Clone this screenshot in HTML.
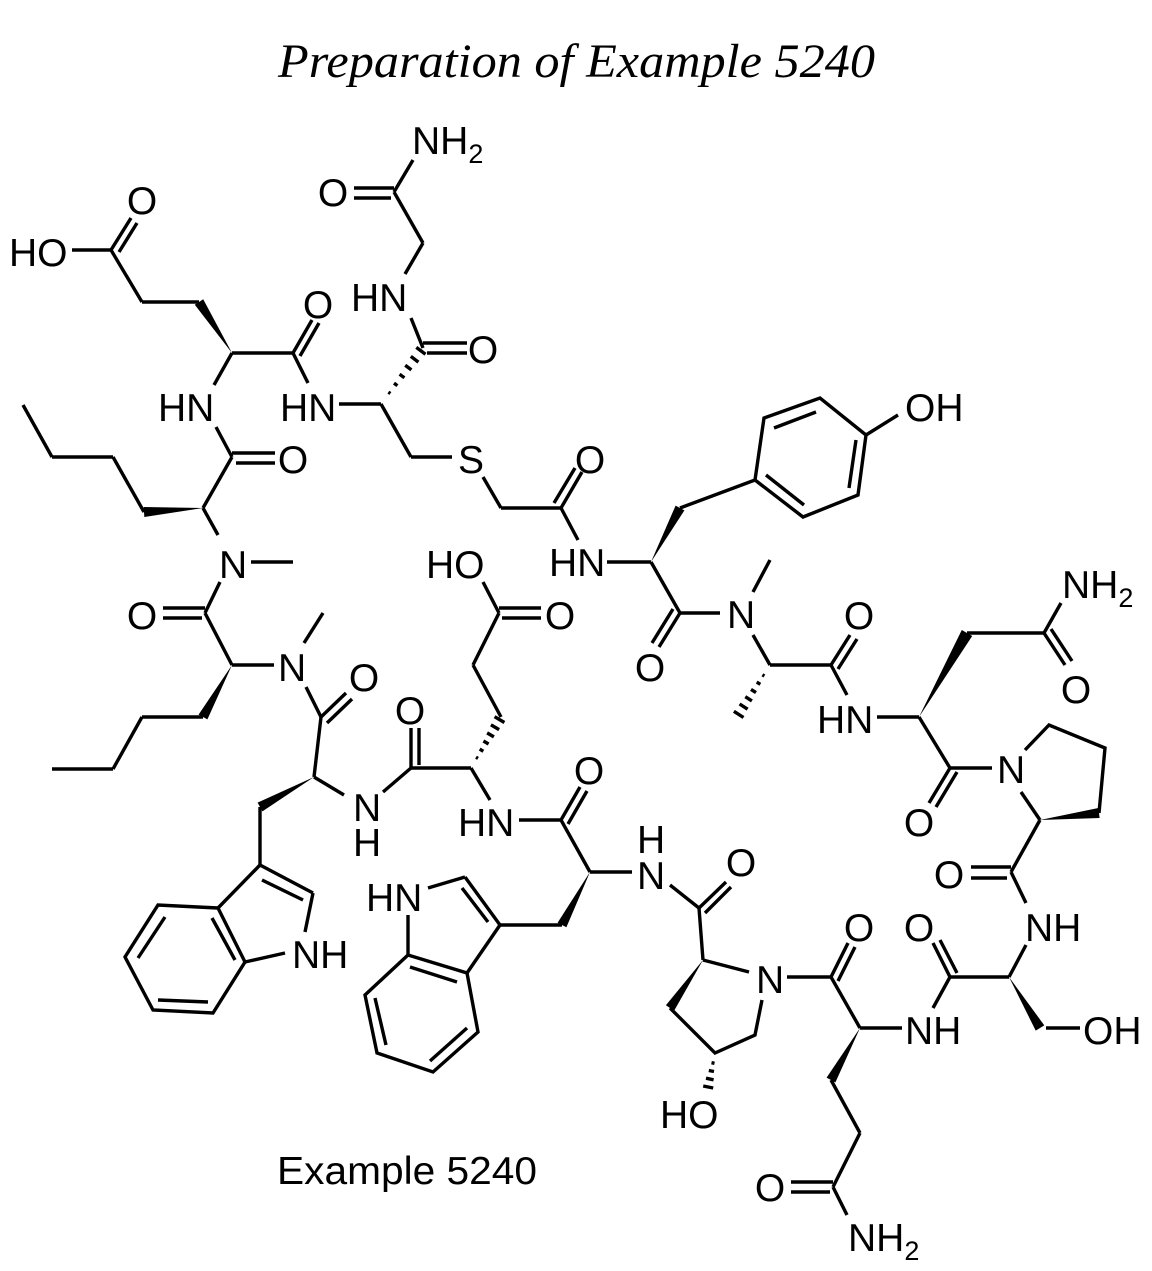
<!DOCTYPE html>
<html><head><meta charset="utf-8"><style>
html,body{margin:0;padding:0;background:#fff;}
svg{display:block}
text{font-family:"Liberation Sans",sans-serif;font-size:39px;fill:#000}
.t{font-family:"Liberation Serif",serif;font-style:italic;font-size:48px}
</style></head><body>
<svg width="1152" height="1271" viewBox="0 0 1152 1271" xmlns="http://www.w3.org/2000/svg">
<rect width="1152" height="1271" fill="#fff"/>
<text class="t" x="278" y="77" textLength="597" lengthAdjust="spacingAndGlyphs">Preparation of Example 5240</text>
<g stroke="#000" stroke-width="3.4" fill="none" stroke-linecap="butt">
<line x1="413" y1="160" x2="394" y2="192"/>
<line x1="354" y1="188" x2="394" y2="188"/><line x1="354" y1="198" x2="391" y2="198"/>
<line x1="394" y1="192" x2="423" y2="243"/><line x1="423" y1="243" x2="405" y2="274"/>
<line x1="411" y1="318" x2="423" y2="348"/>
<line x1="423" y1="343" x2="467" y2="343"/><line x1="427" y1="353" x2="467" y2="353"/>
<line x1="339" y1="404" x2="381" y2="404"/><line x1="381" y1="404" x2="411" y2="457"/>
<line x1="411" y1="457" x2="452" y2="457"/>
<line x1="483" y1="477" x2="501" y2="508"/><line x1="501" y1="508" x2="561" y2="508"/>
<line x1="561" y1="508" x2="582" y2="472"/><line x1="554" y1="503" x2="575" y2="468"/>
<line x1="561" y1="508" x2="578" y2="540"/>
<line x1="388.4" y1="392.1" x2="390.4" y2="393.5"/><line x1="394" y1="383.1" x2="397.4" y2="385.7"/>
<line x1="399.6" y1="374.2" x2="404.4" y2="377.8"/><line x1="405.2" y1="365.3" x2="411.4" y2="369.9"/>
<line x1="410.8" y1="356.3" x2="418.4" y2="362.1"/><line x1="416.3" y1="347.4" x2="425.5" y2="354.2"/>
<line x1="72" y1="250" x2="111" y2="250"/>
<line x1="111" y1="250" x2="131" y2="218"/><line x1="119" y1="252" x2="137" y2="223"/>
<line x1="111" y1="250" x2="142" y2="302"/><line x1="142" y1="302" x2="199" y2="302"/>
<line x1="232" y1="353" x2="293" y2="353"/>
<line x1="293" y1="353" x2="312" y2="320"/><line x1="300" y1="356" x2="319" y2="323"/>
<line x1="293" y1="353" x2="308" y2="383"/>
<line x1="214" y1="385" x2="232" y2="353"/>
<line x1="216" y1="427" x2="232" y2="457"/>
<line x1="232" y1="453" x2="275" y2="453"/><line x1="236" y1="463" x2="275" y2="463"/>
<line x1="232" y1="457" x2="203" y2="508"/>
<line x1="144" y1="512" x2="113" y2="457"/><line x1="113" y1="457" x2="52" y2="457"/><line x1="52" y1="457" x2="23" y2="405"/>
<line x1="203" y1="508" x2="218" y2="535"/>
<line x1="251" y1="562" x2="293" y2="562"/>
<line x1="220" y1="582" x2="205" y2="613"/>
<line x1="163" y1="608" x2="205" y2="608"/><line x1="163" y1="618" x2="202" y2="618"/>
<line x1="205" y1="613" x2="232" y2="665"/><line x1="232" y1="665" x2="274" y2="665"/>
<line x1="203" y1="717" x2="142" y2="717"/><line x1="142" y1="717" x2="113" y2="769"/><line x1="113" y1="769" x2="52" y2="769"/>
<line x1="304" y1="643" x2="323" y2="613"/>
<line x1="306" y1="687" x2="321" y2="717"/>
<line x1="321" y1="717" x2="346" y2="693"/><line x1="327" y1="723" x2="352" y2="699"/>
<line x1="321" y1="717" x2="314" y2="777"/><line x1="314" y1="777" x2="344" y2="795"/>
<line x1="260" y1="807" x2="260" y2="865"/>
<line x1="260" y1="865" x2="313" y2="893"/><line x1="262" y1="880" x2="303" y2="900"/>
<line x1="313" y1="893" x2="305" y2="932"/>
<line x1="285" y1="953" x2="245" y2="962"/>
<line x1="260" y1="865" x2="218" y2="908"/>
<polyline points="218,908 158,905 125,957 153,1010 213,1013 245,962 218,908"/>
<line x1="212" y1="918" x2="235" y2="960"/><line x1="165" y1="917" x2="138" y2="958"/><line x1="158" y1="1000" x2="208" y2="1002"/>
<line x1="383" y1="792" x2="411" y2="768"/><line x1="411" y1="768" x2="471" y2="768"/>
<line x1="411" y1="768" x2="411" y2="728"/><line x1="419" y1="765" x2="419" y2="728"/>
<line x1="471" y1="768" x2="490" y2="800"/>
<line x1="501" y1="717" x2="473" y2="665"/><line x1="473" y1="665" x2="499" y2="613"/>
<line x1="499" y1="613" x2="483" y2="582"/>
<line x1="499" y1="608" x2="541" y2="608"/><line x1="502" y1="618" x2="541" y2="618"/>
<line x1="476" y1="757.2" x2="478" y2="758.4"/><line x1="479.7" y1="749.1" x2="483.3" y2="751.3"/>
<line x1="483.4" y1="741" x2="488.6" y2="744"/><line x1="487.1" y1="732.9" x2="493.9" y2="736.9"/>
<line x1="490.9" y1="724.8" x2="499.1" y2="729.6"/><line x1="494.6" y1="716.7" x2="504.4" y2="722.5"/>
<line x1="519" y1="820" x2="561" y2="820"/>
<line x1="561" y1="820" x2="580" y2="787"/><line x1="568" y1="824" x2="587" y2="791"/>
<line x1="561" y1="820" x2="590" y2="872"/>
<line x1="562" y1="925" x2="500" y2="925"/>
<line x1="428" y1="888" x2="465" y2="877"/><line x1="465" y1="877" x2="500" y2="925"/><line x1="462" y1="888" x2="488" y2="922"/>
<line x1="500" y1="925" x2="467" y2="973"/>
<line x1="408" y1="915" x2="408" y2="955"/>
<polyline points="408,955 467,973 478,1032 433,1072 377,1053 365,995 408,955"/>
<line x1="410" y1="967" x2="457" y2="982"/><line x1="375" y1="998" x2="386" y2="1045"/><line x1="430" y1="1061" x2="467" y2="1028"/>
<line x1="607" y1="562" x2="651" y2="562"/>
<line x1="680" y1="508" x2="755" y2="480"/>
<polyline points="755,480 764,418 820,398 866,435 858,495 803,517 755,480"/>
<line x1="774" y1="428" x2="816" y2="412"/><line x1="856" y1="440" x2="849" y2="488"/><line x1="766" y1="475" x2="804" y2="505"/>
<line x1="866" y1="435" x2="898" y2="415"/>
<line x1="651" y1="562" x2="680" y2="613"/>
<line x1="680" y1="613" x2="659" y2="647"/><line x1="673" y1="609" x2="652" y2="643"/>
<line x1="680" y1="613" x2="720" y2="613"/>
<line x1="753" y1="592" x2="770" y2="560"/>
<line x1="753" y1="635" x2="770" y2="665"/><line x1="770" y1="665" x2="831" y2="665"/>
<line x1="762.4" y1="674.8" x2="764.4" y2="676"/><line x1="756.7" y1="682.1" x2="760.3" y2="684.3"/>
<line x1="751" y1="689.4" x2="756" y2="692.6"/><line x1="745.3" y1="696.7" x2="751.9" y2="700.9"/>
<line x1="739.6" y1="704" x2="747.6" y2="709.2"/><line x1="733.9" y1="711.3" x2="743.5" y2="717.5"/>
<line x1="831" y1="665" x2="850" y2="635"/><line x1="838" y1="669" x2="857" y2="639"/>
<line x1="831" y1="665" x2="847" y2="695"/>
<line x1="877" y1="717" x2="919" y2="717"/>
<line x1="967" y1="633" x2="1044" y2="633"/><line x1="1044" y1="633" x2="1061" y2="603"/>
<line x1="1044" y1="633" x2="1065" y2="665"/><line x1="1051" y1="629" x2="1072" y2="661"/>
<line x1="919" y1="717" x2="950" y2="768"/><line x1="950" y1="768" x2="992" y2="768"/>
<line x1="950" y1="768" x2="929" y2="803"/><line x1="957" y1="772" x2="936" y2="807"/>
<polyline points="1025,750 1049,725 1105,748 1099,813"/>
<line x1="1021" y1="792" x2="1040" y2="820"/>
<line x1="1040" y1="820" x2="1011" y2="872"/>
<line x1="971" y1="867" x2="1011" y2="867"/><line x1="971" y1="878" x2="1007" y2="878"/>
<line x1="1011" y1="872" x2="1026" y2="903"/>
<line x1="1026" y1="945" x2="1009" y2="977"/>
<line x1="1046" y1="1028" x2="1080" y2="1028"/>
<line x1="1009" y1="977" x2="950" y2="977"/>
<line x1="950" y1="977" x2="933" y2="943"/><line x1="957" y1="973" x2="940" y2="940"/>
<line x1="950" y1="977" x2="933" y2="1008"/>
<line x1="902" y1="1028" x2="860" y2="1028"/>
<line x1="860" y1="1028" x2="831" y2="977"/>
<line x1="831" y1="977" x2="848" y2="943"/><line x1="838" y1="981" x2="855" y2="947"/>
<line x1="831" y1="977" x2="787" y2="977"/>
<line x1="831" y1="1080" x2="860" y2="1133"/><line x1="860" y1="1133" x2="833" y2="1187"/>
<line x1="791" y1="1182" x2="833" y2="1182"/><line x1="791" y1="1192" x2="830" y2="1192"/>
<line x1="833" y1="1187" x2="847" y2="1215"/>
<line x1="749" y1="972" x2="703" y2="960"/><line x1="703" y1="960" x2="699" y2="908"/>
<line x1="699" y1="908" x2="726" y2="882"/><line x1="705" y1="913" x2="731" y2="887"/>
<line x1="670" y1="885" x2="699" y2="908"/>
<line x1="632" y1="872" x2="590" y2="872"/>
<polyline points="670,1008 715,1053 755,1035 762,1000"/>
<line x1="711.5" y1="1062.7" x2="714.5" y2="1063.3"/><line x1="708.8" y1="1070.5" x2="714" y2="1071.5"/>
<line x1="706" y1="1078.2" x2="713.6" y2="1079.8"/><line x1="703.2" y1="1086" x2="713.2" y2="1088"/>
</g>
<g fill="#000">
<polygon points="232,353 203.2,299.3 194.8,304.7"/>
<polygon points="203,508 143.7,507 144.3,517"/>
<polygon points="232,665 207.4,719.4 198.6,714.6"/>
<polygon points="314,777 262.4,811.4 257.6,802.6"/>
<polygon points="651,562 684.4,510.4 675.6,505.6"/>
<polygon points="919,717 972.2,636 961.8,630"/>
<polygon points="1040,820 1099.6,818 1098.4,808"/>
<polygon points="1009,977 1044.3,1025.4 1035.7,1030.6"/>
<polygon points="860,1028 835.4,1082.4 826.6,1077.6"/>
<polygon points="703,960 674.1,1010.8 665.9,1005.2"/>
<polygon points="590,872 566.4,927.3 557.6,922.7"/>
</g>
<g>
<text x="412" y="154">NH<tspan font-size="27" dy="9">2</tspan></text>
<text x="333" y="206" text-anchor="middle">O</text>
<text x="351" y="311">HN</text>
<text x="483" y="363" text-anchor="middle">O</text>
<text x="280" y="421">HN</text>
<text x="458" y="473">S</text>
<text x="142" y="214" text-anchor="middle">O</text>
<text x="9" y="266">HO</text>
<text x="318" y="318" text-anchor="middle">O</text>
<text x="158" y="421">HN</text>
<text x="293" y="473" text-anchor="middle">O</text>
<text x="219" y="578">N</text>
<text x="142" y="629" text-anchor="middle">O</text>
<text x="278" y="681">N</text>
<text x="364" y="691" text-anchor="middle">O</text>
<text x="353" y="821">N</text>
<text x="353" y="856">H</text>
<text x="410" y="724" text-anchor="middle">O</text>
<text x="426" y="578">HO</text>
<text x="560" y="629" text-anchor="middle">O</text>
<text x="458" y="836">HN</text>
<text x="589" y="784" text-anchor="middle">O</text>
<text x="292" y="968">NH</text>
<text x="366" y="911">HN</text>
<text x="590" y="473" text-anchor="middle">O</text>
<text x="549" y="576">HN</text>
<text x="905" y="421">OH</text>
<text x="650" y="681" text-anchor="middle">O</text>
<text x="727" y="628">N</text>
<text x="859" y="629" text-anchor="middle">O</text>
<text x="817" y="733">HN</text>
<text x="1062" y="598">NH<tspan font-size="27" dy="9">2</tspan></text>
<text x="1076" y="703" text-anchor="middle">O</text>
<text x="997" y="783">N</text>
<text x="919" y="836" text-anchor="middle">O</text>
<text x="949" y="888" text-anchor="middle">O</text>
<text x="1025" y="941">NH</text>
<text x="919" y="941" text-anchor="middle">O</text>
<text x="1083" y="1044">OH</text>
<text x="905" y="1044">NH</text>
<text x="859" y="941" text-anchor="middle">O</text>
<text x="756" y="993">N</text>
<text x="637" y="889">N</text>
<text x="637" y="853">H</text>
<text x="741" y="876" text-anchor="middle">O</text>
<text x="660" y="1128">HO</text>
<text x="770" y="1201" text-anchor="middle">O</text>
<text x="848" y="1251">NH<tspan font-size="27" dy="9">2</tspan></text>
<text x="277" y="1184" font-size="41" textLength="260" lengthAdjust="spacingAndGlyphs">Example 5240</text>
</g>
</svg>
</body></html>
